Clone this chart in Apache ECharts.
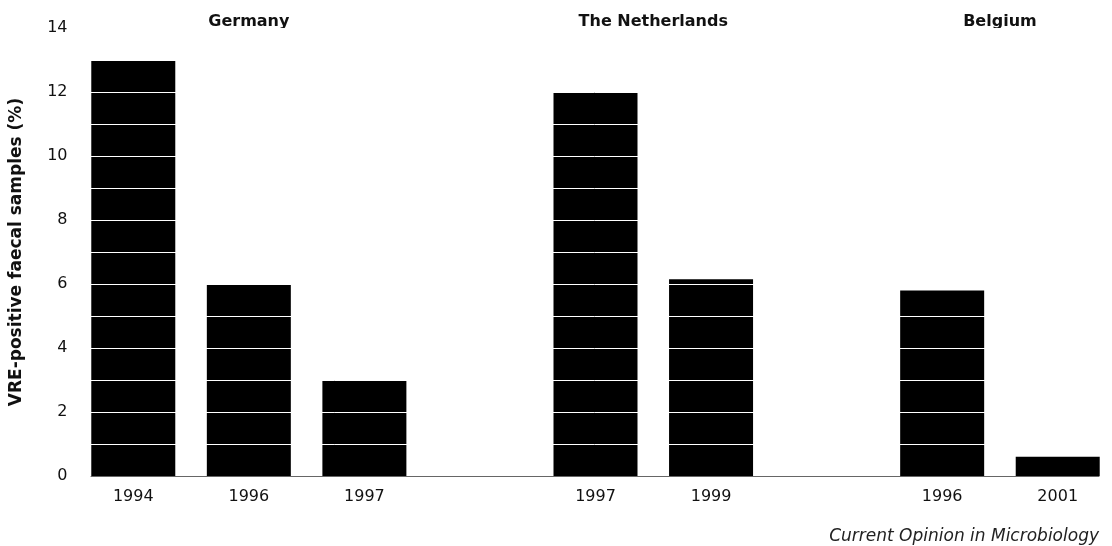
<!DOCTYPE html>
<html>
<head>
<meta charset="utf-8">
<script src="https://cdn.jsdelivr.net/npm/echarts@6/dist/echarts.min.js"></script>
<style>
  html, body { margin: 0; padding: 0; background: #fff; }
  #chart { width: 1112px; height: 546px; }
</style>
</head>
<body>
<div id="chart"></div>
<script>
// blank slots separate the three countries
const years = ['1994', '1996', '1997', '', '1997', '1999', '', '1996', '2001']
const vrePercent = [13, 6, 3, '-', 12, 6.15, '-', 5.8, 0.6]
const countries = ['Germany', 'The Netherlands', 'Belgium']
// category slot under each country name (halves sit between two bars)
const countrySlot = [1, 4.5, 7.5]
const yTicks = [0, 2, 4, 6, 8, 10, 12, 14]

const font = '"DejaVu Sans", "Open Sans", sans-serif'
const chart = echarts.init(document.getElementById('chart'))

// white band lines across bars every 1 unit; none at 0
const bandColors = ['rgba(0,0,0,0)']
for (let i = 1; i <= 14; i++) bandColors.push('#fff')

chart.setOption({
    animation: false,
    grid: [
        { left: 75.5, right: -3.5, top: 28, bottom: 70, outerBoundsMode: 'none' },
        { left: 91, right: 13, top: 28, bottom: 70 },
    ],
    xAxis: [
        {
            type: 'category',
            data: years,
            gridIndex: 0,
            axisLine: { show: false },
            axisTick: { show: false },
            axisLabel: { margin: 13, fontSize: 16, color: '#111', fontFamily: font },
        },
        {
            type: 'value',
            gridIndex: 1,
            min: 0,
            max: 1,
            axisLine: { show: true, lineStyle: { color: '#666', width: 1 } },
            axisTick: { show: false },
            axisLabel: { show: false },
            splitLine: { show: false },
        },
    ],
    yAxis: [
        {
            type: 'value',
            gridIndex: 0,
            min: 0,
            max: 14,
            interval: 1,
            z: 5,
            name: 'VRE-positive faecal samples (%)',
            nameLocation: 'middle',
            nameGap: 50,
            nameTextStyle: { fontSize: 17, fontWeight: 'bold', color: '#111', fontFamily: font },
            axisLine: { show: false },
            axisTick: { show: false },
            axisLabel: {
                margin: 8,
                fontSize: 16,
                color: '#111',
                fontFamily: font,
                formatter: v => (yTicks.includes(v) ? String(v) : ''),
            },
            splitLine: { show: true, lineStyle: { color: bandColors, width: 1 } },
        },
        { type: 'value', gridIndex: 1, show: false },
    ],
    series: [
        {
            type: 'bar',
            xAxisIndex: 0,
            yAxisIndex: 0,
            data: vrePercent,
            barWidth: 84,
            itemStyle: { color: '#000' },
        },
    ],
})

function slotX(s) {
    const lo = Math.floor(s), hi = Math.ceil(s)
    const a = chart.convertToPixel({ xAxisIndex: 0 }, lo)
    const b = chart.convertToPixel({ xAxisIndex: 0 }, hi)
    return a + (b - a) * (s - lo)
}

const labels = countries.map((name, i) => ({
    type: 'text',
    x: slotX(countrySlot[i]),
    y: 22,
    style: {
        text: name,
        fontSize: 16,
        fontWeight: 'bold',
        fontFamily: font,
        fill: '#111',
        align: 'center',
        verticalAlign: 'middle',
    },
}))
labels.push({
    type: 'text',
    right: 13,
    bottom: 1,
    style: {
        text: 'Current Opinion in Microbiology',
        fontSize: 17,
        fontStyle: 'italic',
        fontFamily: font,
        fill: '#222',
    },
})
chart.setOption({ graphic: labels })
</script>
</body>
</html>
